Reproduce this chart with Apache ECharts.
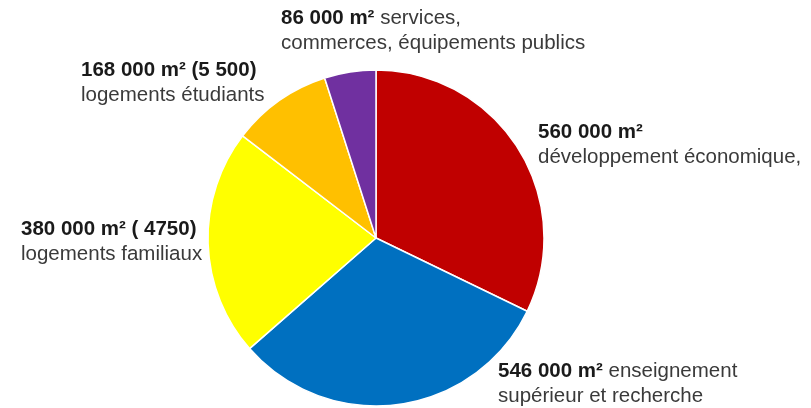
<!DOCTYPE html>
<html>
<head>
<meta charset="utf-8">
<script src="https://cdn.jsdelivr.net/npm/echarts@6/dist/echarts.min.js"></script>
<style>
html,body{margin:0;padding:0;background:#fff;}
#chart{width:811px;height:408px;}
</style>
</head>
<body>
<div id="chart"></div>
<script>
// Data
var categories = ['développement économique', 'enseignement supérieur et recherche', 'logements familiaux', 'logements étudiants', 'services, commerces, équipements publics'];
var values = [560000, 546000, 380000, 168000, 86000];
var boldLabels = ['560 000 m²', '546 000 m²', '380 000 m² ( 4750)', '168 000 m² (5 500)', '86 000 m²'];
var firstLineRest = ['', ' enseignement', '', '', ' services,'];
var secondLine = ['développement économique,', 'supérieur et recherche', 'logements familiaux', 'logements étudiants', 'commerces, équipements publics'];
var colors = ['#C00000', '#0070C0', '#FFFF00', '#FFC000', '#7030A0'];

// Label anchor layout (left x, top y of label box)
var labelAnchors = [[538, 120], [498, 359], [21, 216.5], [81, 57.5], [281, 6]];

var chart = echarts.init(document.getElementById('chart'), null, {renderer: 'canvas'});
var seriesData = categories.map(function (c, i) {
  return {name: c, value: values[i], itemStyle: {color: colors[i]}};
});

chart.setOption({
  animation: false,
  backgroundColor: '#ffffff',
  series: [{
    type: 'pie',
    center: [376, 238],
    radius: 168,
    startAngle: 90,
    clockwise: true,
    data: seriesData,
    itemStyle: {borderColor: '#ffffff', borderWidth: 1.5},
    emphasis: {disabled: true},
    labelLine: {show: false},
    label: {
      show: true,
      position: 'outside',
      overflow: 'none',
      width: 400,
      fontFamily: 'Liberation Sans, Arial, sans-serif',
      formatter: function (p) {
        var i = p.dataIndex;
        var s = '{b|' + boldLabels[i] + '}';
        if (firstLineRest[i]) s += '{n|' + firstLineRest[i] + '}';
        s += '\n{n|' + secondLine[i] + '}';
        return s;
      },
      rich: {
        b: {fontSize: 20.5, fontWeight: 'bold', color: '#1a1a1a', lineHeight: 25, fontFamily: 'Liberation Sans, Arial, sans-serif'},
        n: {fontSize: 20.5, color: '#3a3a3a', lineHeight: 25, fontFamily: 'Liberation Sans, Arial, sans-serif'}
      }
    },
    labelLayout: function (params) {
      var a = labelAnchors[params.dataIndex];
      return {x: a[0], y: a[1], align: 'left', verticalAlign: 'top'};
    }
  }]
});
</script>
</body>
</html>
